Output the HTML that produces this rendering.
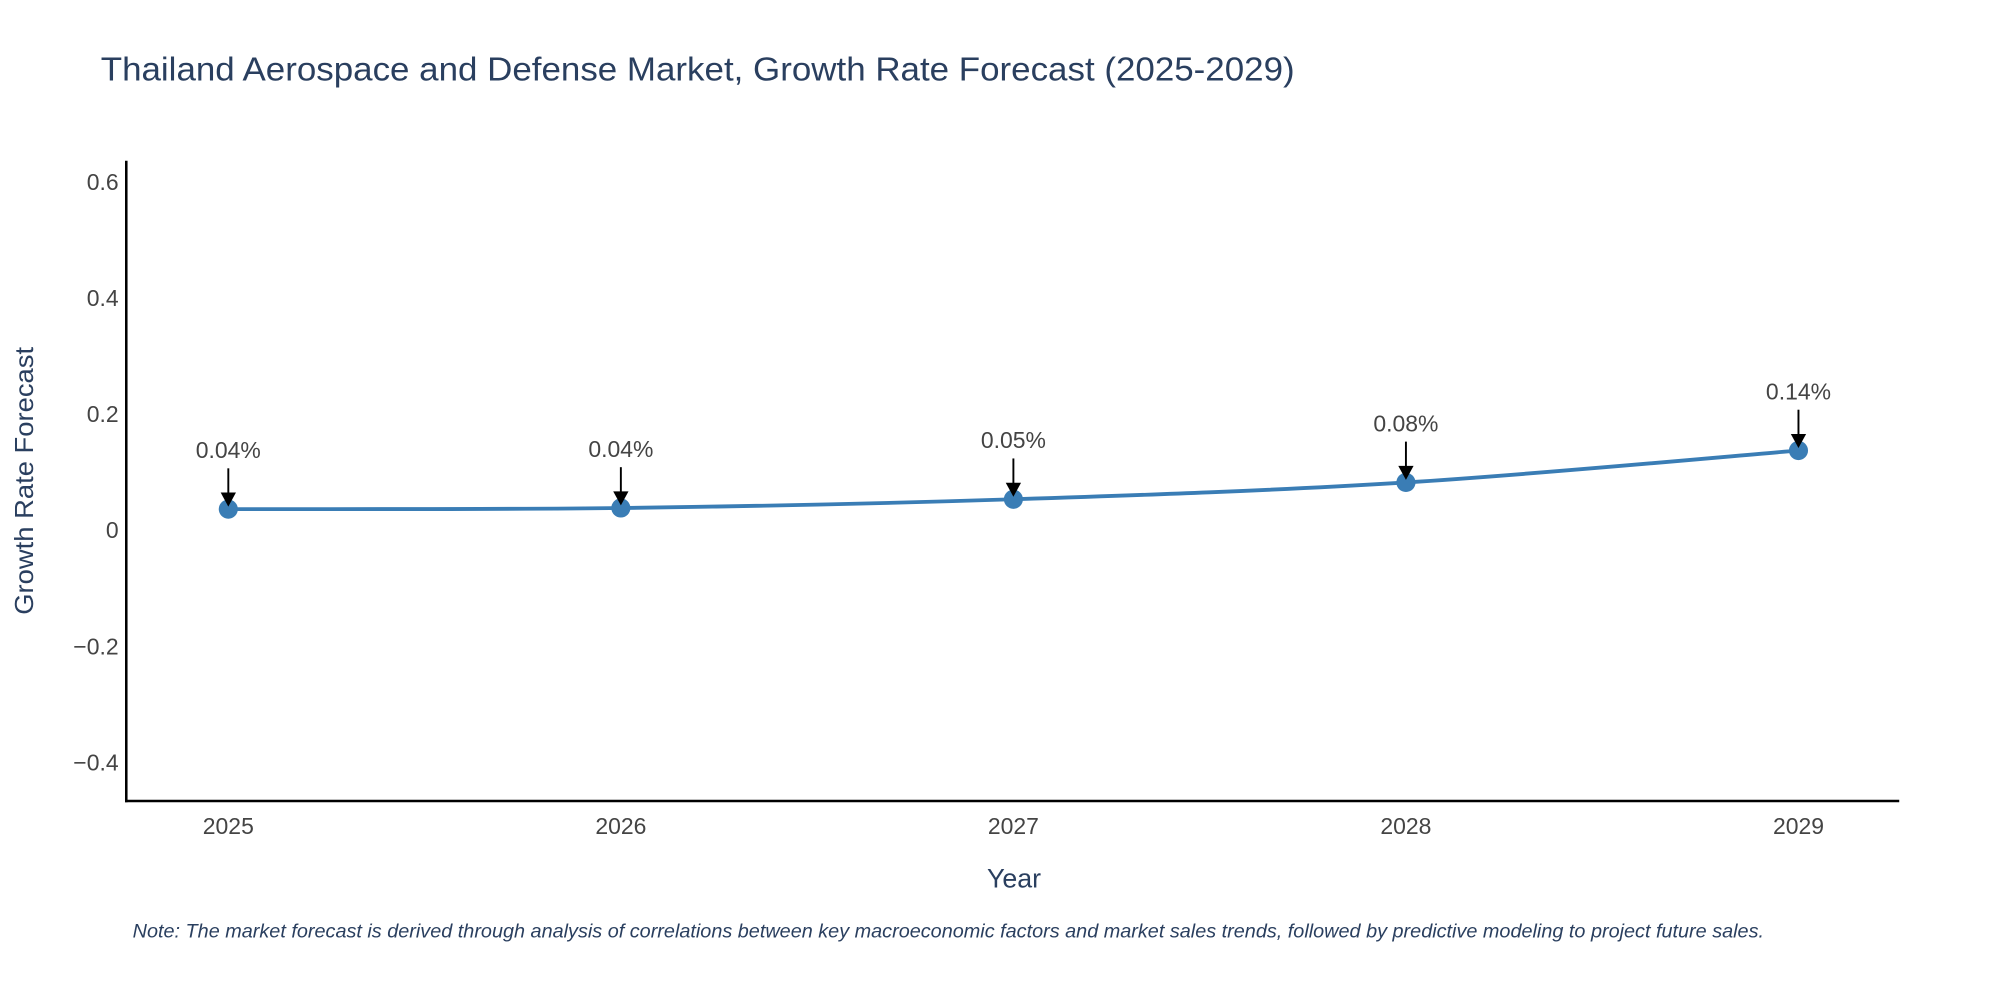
<!DOCTYPE html>
<html><head><meta charset="utf-8"><style>
html,body{margin:0;padding:0;background:#fff;}
svg{display:block;font-family:"Liberation Sans",sans-serif;}
</style></head><body>
<svg id="chart" width="2000" height="1000" viewBox="0 0 1568 784" preserveAspectRatio="none">
<text x="79" y="63" font-size="26" fill="#2a3f5f" textLength="936" lengthAdjust="spacingAndGlyphs">Thailand Aerospace and Defense Market, Growth Rate Forecast (2025-2029)</text>
<g id="yticks"></g>
<g id="xticks"></g>
<line x1="99" y1="126" x2="99" y2="629" stroke="#000" stroke-width="2"/>
<line x1="98" y1="628" x2="1489" y2="628" stroke="#000" stroke-width="2"/>
<text transform="translate(26,377) rotate(-90)" text-anchor="middle" font-size="20" fill="#2a3f5f" textLength="210" lengthAdjust="spacingAndGlyphs">Growth Rate Forecast</text>
<text x="795" y="696" text-anchor="middle" font-size="21" fill="#2a3f5f">Year</text>
<g id="series"></g>
<text x="104" y="735" font-size="15" font-style="italic" fill="#2a3f5f" textLength="1279" lengthAdjust="spacingAndGlyphs">Note: The market forecast is derived through analysis of correlations between key macroeconomic factors and market sales trends, followed by predictive modeling to project future sales.</text>
</svg>
<script>
const years = [2025, 2026, 2027, 2028, 2029];
const values = [0.037, 0.039, 0.054, 0.083, 0.138];
const labels = ["0.04%", "0.04%", "0.05%", "0.08%", "0.14%"];
const yTicks = [0.6, 0.4, 0.2, 0, -0.2, -0.4];
const yTickLabels = ["0.6", "0.4", "0.2", "0", "\u22120.2", "\u22120.4"];

const NS = "http://www.w3.org/2000/svg";
function xs(v){ return 179 + (v - 2025) * 307.75; }
function ys(v){ return 416 - v * 455; }
function mk(tag, attrs, parent){ const e = document.createElementNS(NS, tag); for (const k in attrs) e.setAttribute(k, attrs[k]); parent.appendChild(e); return e; }

const yg = document.getElementById('yticks');
yTicks.forEach((t, i) => {
  const e = mk('text', {x: 93, y: ys(t) + 6, 'text-anchor': 'end', 'font-size': 18, fill: '#444'}, yg);
  
  
  e.textContent = yTickLabels[i];
});
const xg = document.getElementById('xticks');
years.forEach(y => {
  const e = mk('text', {x: xs(y), y: 654, 'text-anchor': 'middle', 'font-size': 18, fill: '#444'}, xg);
  
  
  e.textContent = String(y);
});

const sg = document.getElementById('series');
const pts = years.map((y, i) => [xs(y), ys(values[i])]);
let d = 'M' + pts[0][0] + ',' + pts[0][1];
for (let i = 0; i < pts.length - 1; i++) {
  const p0 = pts[Math.max(0, i - 1)], p1 = pts[i], p2 = pts[i + 1], p3 = pts[Math.min(pts.length - 1, i + 2)];
  const c1x = p1[0] + (p2[0] - p0[0]) / 6, c1y = p1[1] + (p2[1] - p0[1]) / 6;
  const c2x = p2[0] - (p3[0] - p1[0]) / 6, c2y = p2[1] - (p3[1] - p1[1]) / 6;
  d += ' C' + c1x + ',' + c1y + ' ' + c2x + ',' + c2y + ' ' + p2[0] + ',' + p2[1];
}
const line = mk('path', {d: d, fill: 'none', stroke: '#3a7db5', 'stroke-width': 3}, sg);



pts.forEach((p, i) => {
  const c = mk('circle', {cx: p[0], cy: p[1], r: 7.5, fill: '#3a7db5'}, sg);
  
  
  const a = mk('line', {x1: p[0], y1: p[1] - 32, x2: p[0], y2: p[1] - 10, stroke: '#000', 'stroke-width': 1.5}, sg);
  
  
  const h = mk('polygon', {points: (p[0]-6)+','+(p[1]-13)+' '+(p[0]+6)+','+(p[1]-13)+' '+p[0]+','+(p[1]-2), fill: '#000'}, sg);
  
  
  const t = mk('text', {x: p[0], y: p[1] - 40, 'text-anchor': 'middle', 'font-size': 18, fill: '#444'}, sg);
  
  
  t.textContent = labels[i];
});
</script>
</body></html>
